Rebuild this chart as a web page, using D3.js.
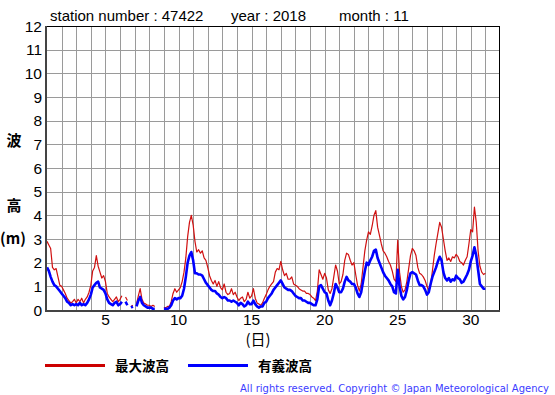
<!DOCTYPE html>
<html><head><meta charset="utf-8">
<script src="https://cdn.jsdelivr.net/npm/d3@7"></script>
<style>
html,body{margin:0;padding:0;background:#fff;}
svg{display:block;font-family:"Liberation Sans",Arial,sans-serif;}
</style></head>
<body><svg id="c" width="555" height="395"></svg>
<script>
// ---- data (3-hourly, from Nov 1 00:00 to Nov 30 24:00) ----
const startDay = 1;
const stepDay = 0.125;
const maxWave = [
2.9,2.75,2.6,1.8,1.7,1.75,1.4,1.05,
1.0,0.85,0.7,0.5,0.4,0.3,0.35,0.45,
0.3,0.45,0.35,0.5,0.3,0.45,0.55,0.75,
1.05,1.65,1.8,2.3,1.85,1.6,1.35,1.45,
1.2,0.7,0.55,0.45,0.35,0.45,0.55,0.35,
0.45,0.6,null,0.55,0.4,null,0.15,0.2,
null,0.25,0.6,0.9,0.45,0.3,0.25,0.2,
0.2,0.15,0.2,0.15,null,null,null,null,
0.1,0.1,0.15,0.15,0.35,0.7,0.9,0.75,
0.85,0.95,1.2,1.6,2.2,3.1,3.7,4.0,
3.6,2.9,2.45,2.55,2.4,2.5,2.2,2.1,
1.8,1.45,1.25,1.1,1.25,1.0,1.2,0.95,
0.85,1.1,0.75,0.65,0.7,0.9,0.65,0.75,
0.55,0.4,0.5,0.55,0.35,0.45,0.75,0.5,
0.6,0.9,0.5,0.3,0.25,0.2,0.3,0.5,
0.65,0.85,1.0,1.1,1.2,1.6,1.75,1.7,
2.05,1.7,1.45,1.55,1.3,1.3,1.4,1.1,
1.05,1.0,0.9,0.85,0.8,0.8,0.7,0.7,
0.65,0.55,0.5,0.4,0.8,1.7,1.5,1.3,
1.55,1.35,0.85,0.7,0.9,1.4,1.9,1.65,
1.1,1.2,1.5,2.1,2.4,2.35,2.1,1.9,
2.0,1.5,1.05,0.8,1.1,1.8,2.5,2.95,
3.3,3.2,3.55,4.0,4.2,3.5,3.15,2.8,
2.5,2.4,2.25,2.05,1.9,1.65,1.3,1.2,
2.95,1.6,1.0,0.75,0.85,1.2,1.75,2.3,
2.6,2.5,2.3,1.8,1.55,1.5,1.4,1.25,
1.0,0.85,1.05,1.65,2.3,2.8,3.25,3.7,
3.5,3.0,2.5,2.1,2.2,2.05,2.25,2.2,
2.35,2.25,2.05,2.0,1.9,2.1,2.25,2.8,
3.4,3.3,4.35,3.7,2.5,1.85,1.6,1.5,
1.55];
const sigWave = [
1.8,1.65,1.4,1.2,1.05,1.0,0.9,0.8,
0.7,0.6,0.5,0.35,0.3,0.2,0.25,0.2,
0.25,0.2,0.3,0.2,0.25,0.2,0.3,0.45,
0.65,0.95,1.05,1.15,1.2,0.95,0.9,0.85,
0.7,0.45,0.3,0.25,0.2,0.3,0.35,0.2,
0.25,0.35,null,0.35,0.2,null,0.1,0.15,
null,0.15,0.4,0.55,0.3,0.2,0.15,0.1,
0.1,0.1,0.05,0.05,null,null,null,null,
0.05,0.05,0.05,0.1,0.2,0.4,0.5,0.45,
0.5,0.5,0.6,0.9,1.4,2.0,2.3,2.45,
2.1,1.55,1.55,1.5,1.5,1.45,1.3,1.15,
1.05,0.95,0.85,0.8,0.8,0.7,0.65,0.55,
0.5,0.55,0.5,0.4,0.4,0.35,0.4,0.35,
0.3,0.2,0.3,0.25,0.15,0.2,0.35,0.25,
0.25,0.4,0.25,0.15,0.1,0.15,0.15,0.3,
0.35,0.5,0.6,0.7,0.85,0.95,1.05,1.15,
1.25,1.1,0.95,0.9,0.85,0.85,0.8,0.7,
0.6,0.55,0.5,0.5,0.4,0.4,0.35,0.3,
0.3,0.25,0.2,0.2,0.45,1.0,1.05,0.9,
0.75,0.7,0.4,0.2,0.4,0.7,1.1,0.95,
0.75,0.75,0.9,1.2,1.4,1.25,1.2,1.1,
1.1,0.95,0.7,0.55,0.75,1.2,1.65,2.0,
1.9,2.1,2.25,2.5,2.55,2.2,2.0,1.8,
1.6,1.45,1.35,1.25,1.1,1.0,0.75,0.7,
1.7,1.0,0.6,0.45,0.55,0.85,1.25,1.55,
1.6,1.55,1.5,1.25,1.05,1.05,1.0,0.85,
0.65,0.75,1.1,1.4,1.6,1.8,2.05,2.25,
2.1,1.6,1.35,1.25,1.35,1.2,1.3,1.25,
1.45,1.35,1.3,1.15,1.2,1.35,1.5,1.7,
2.05,2.3,2.65,2.3,1.7,1.1,1.0,0.9,
0.9];
const yTicks = [0,1,2,3,4,5,6,7,8,9,10,11,12];
const xTickLabels = [5,10,15,20,25,30];
const dayGrid = d3.range(2, 32);
const titleParts = ["station number : 47422", "year : 2018", "month : 11"];
const yTitle = ["波", "高", "(m)"];
const xTitle = "(日)";
const legendNames = ["最大波高", "有義波高"];
const copyright = "All rights reserved. Copyright © Japan Meteorological Agency";

// ---- drawing ----
const svg = d3.select("#c");
const L = 47, R = 500, T = 26, B = 310;
const x = d3.scaleLinear().domain([1, 32]).range([L, R]);
const y = d3.scaleLinear().domain([0, 12]).range([B, T]);

// grid
const g = svg.append("g");
g.selectAll(".vg").data(dayGrid).enter().append("line")
  .attr("x1", d => Math.round(x(d)) + 0.5).attr("x2", d => Math.round(x(d)) + 0.5)
  .attr("y1", T).attr("y2", B).attr("stroke", "#9a9a9a").attr("stroke-width", 1);
g.selectAll(".hg").data(yTicks.slice(1, -1)).enter().append("line")
  .attr("x1", L).attr("x2", R)
  .attr("y1", d => Math.round(y(d)) + 0.5).attr("y2", d => Math.round(y(d)) + 0.5)
  .attr("stroke", "#9a9a9a").attr("stroke-width", 1);

// series
const pts = arr => arr.map((v, i) => ({t: startDay + i * stepDay, v}));
const line = d3.line().defined(d => d.v !== null).x(d => x(d.t)).y(d => y(d.v));
svg.append("path").datum(pts(maxWave)).attr("d", line)
  .attr("fill", "none").attr("stroke", "#d01010").attr("stroke-width", 1.2)
  .attr("stroke-linejoin", "round");
svg.append("path").datum(pts(sigWave)).attr("d", line)
  .attr("fill", "none").attr("stroke", "#0000ff").attr("stroke-width", 2.6)
  .attr("stroke-linejoin", "round");

// frame
svg.append("line").attr("x1", L).attr("x2", R).attr("y1", T + 0.5).attr("y2", T + 0.5).attr("stroke", "#000");
svg.append("line").attr("x1", R - 0.5).attr("x2", R - 0.5).attr("y1", T).attr("y2", B).attr("stroke", "#000");
svg.append("line").attr("x1", L - 1).attr("x2", L - 1).attr("y1", T).attr("y2", B + 1).attr("stroke", "#444").attr("stroke-width", 2);
svg.append("line").attr("x1", L - 2).attr("x2", R).attr("y1", B + 1).attr("y2", B + 1).attr("stroke", "#444").attr("stroke-width", 2);

// y tick labels
svg.selectAll(".yl").data(yTicks).enter().append("text")
  .attr("x", 42).attr("y", d => y(d) + 5.5).attr("text-anchor", "end")
  .attr("font-size", 15.5).attr("fill", "#000").text(d => d);
// x tick labels
svg.selectAll(".xl").data(xTickLabels).enter().append("text")
  .attr("x", d => x(d)).attr("y", 325).attr("text-anchor", "middle")
  .attr("font-size", 15.5).attr("fill", "#000").text(d => d);

// title
const titleX = [50, 231, 339];
svg.selectAll(".tt").data(titleParts).enter().append("text")
  .attr("x", (d, i) => titleX[i]).attr("y", 21)
  .attr("font-size", 15).attr("fill", "#000").text(d => d);

// y-axis title
const cjk = '"Noto Sans CJK JP","Noto Sans CJK SC",sans-serif';
const yTitleY = [146, 211, 244];
svg.selectAll(".yt").data(yTitle).enter().append("text")
  .attr("x", (d, i) => i < 2 ? 14 : 13).attr("y", (d, i) => yTitleY[i]).attr("text-anchor", "middle")
  .attr("font-family", cjk).attr("font-weight", "bold").attr("font-size", 15).text(d => d);

// x-axis title
svg.append("text").attr("x", 258).attr("y", 345).attr("text-anchor", "middle")
  .attr("font-family", cjk).attr("font-size", 15).text(xTitle);

// legend
const legColors = ["#cc0000", "#0000ff"];
const legX = [45, 188];
legendNames.forEach((n, i) => {
  svg.append("line").attr("x1", legX[i]).attr("x2", legX[i] + 60).attr("y1", 365.5).attr("y2", 365.5)
    .attr("stroke", legColors[i]).attr("stroke-width", 3);
  svg.append("text").attr("x", legX[i] + 70).attr("y", 370.5)
    .attr("font-family", cjk).attr("font-weight", "bold").attr("font-size", 13.5).text(n);
});

// copyright
svg.append("text").attr("x", 240).attr("y", 391.5).attr("font-size", 10)
  .attr("font-family", '"DejaVu Sans",Verdana,sans-serif')
  .attr("textLength", 309).attr("lengthAdjust", "spacing")
  .attr("fill", "#3c3cff").text(copyright);
</script></body></html>
